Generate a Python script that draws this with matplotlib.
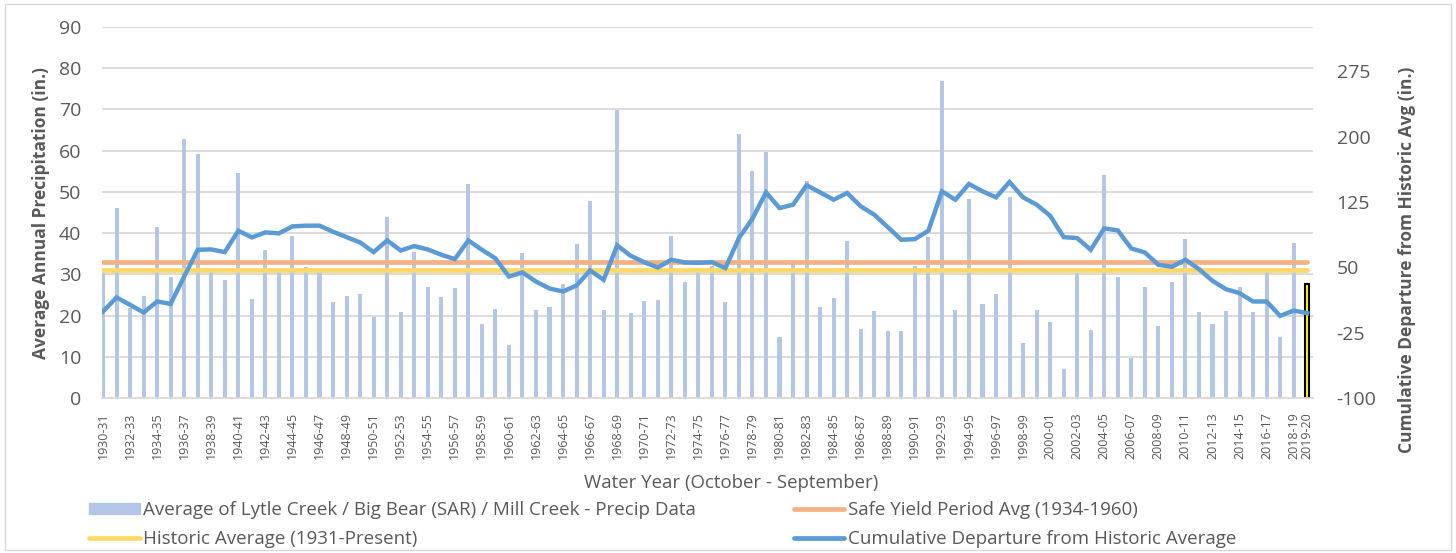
import matplotlib.pyplot as plt
from matplotlib.patches import Rectangle, Patch
from matplotlib.lines import Line2D

plt.rcParams['font.family'] = ['Open Sans', 'DejaVu Sans']
plt.rcParams['axes.unicode_minus'] = False

water_years = [f"{y}-{str(y + 1)[-2:]}" for y in range(1930, 2020)]

# annual precip (in.), average of Lytle Creek / Big Bear / Mill Creek
precip = [30.5, 46.2, 21.8, 24.9, 41.6, 29.5, 62.7, 59.1, 31.0, 28.7,
          54.6, 24.1, 35.9, 30.5, 39.3, 31.8, 30.8, 23.4, 24.8, 25.3,
          19.6, 43.8, 20.8, 35.4, 27.0, 24.5, 26.6, 51.9, 18.1, 21.7,
          12.9, 35.3, 21.5, 22.0, 27.7, 37.3, 47.8, 21.5, 69.8, 20.6,
          23.5, 23.7, 39.3, 28.2, 30.5, 32.0, 23.4, 64.1, 55.0, 59.7,
          14.9, 33.5, 52.7, 22.0, 24.2, 38.1, 16.7, 21.1, 16.4, 16.4,
          32.0, 39.0, 76.8, 21.3, 48.3, 22.8, 25.2, 48.7, 13.3, 21.3,
          18.6, 7.0, 30.3, 16.6, 54.2, 29.5, 9.8, 27.0, 17.6, 28.2,
          38.5, 20.9, 18.1, 21.1, 27.0, 20.9, 30.8, 14.8, 37.5, 27.8]

# cumulative departure from historic average (in.)
cum_departure = [-0.5, 15.6, 7.2, -1.6, 11.0, 8.3, 39.7, 70.3, 70.7, 67.6,
                 92.1, 84.5, 90.2, 89.1, 97.1, 97.9, 97.9, 91.0, 84.8, 78.7,
                 67.6, 81.0, 69.5, 74.5, 70.7, 64.6, 59.6, 81.0, 70.3, 60.4,
                 39.7, 44.3, 33.9, 25.9, 22.5, 29.4, 46.6, 35.9, 75.3, 63.4,
                 56.1, 50.0, 58.8, 55.8, 55.4, 56.1, 49.3, 83.7, 105.9, 136.1,
                 118.1, 122.0, 144.2, 136.1, 127.7, 135.4, 120.1, 110.5, 96.3, 81.8,
                 82.5, 92.1, 137.3, 127.7, 145.7, 137.3, 130.4, 148.0, 130.4, 122.0,
                 109.3, 84.8, 83.7, 70.3, 94.8, 92.5, 71.8, 67.2, 53.1, 50.8,
                 58.8, 48.1, 34.7, 25.1, 20.6, 11.0, 11.0, -5.5, 0.6, -2.4]

safe_yield_avg = 32.9
historic_avg = 31.0

grey = '#595959'
x = list(range(len(water_years)))

fig = plt.figure(figsize=(14.56, 5.53), dpi=100)
fig.patches.append(Rectangle((5 / 1456, 3 / 553), 1446 / 1456, 546 / 553,
                             transform=fig.transFigure, fill=False,
                             edgecolor='#d9d9d9', linewidth=1))

ax = fig.add_axes([0.0701, 0.2797, 0.8317, 0.672])
ax2 = ax.twinx()

bar_colors = ['#b4c7e7'] * (len(x) - 1) + ['#ffff00']
bar_edges = ['#b4c7e7'] * (len(x) - 1) + ['black']
bar_lw = [0] * (len(x) - 1) + [1.5]
ax.bar(x, precip, width=0.3, color=bar_colors, edgecolor=bar_edges,
       linewidth=bar_lw, zorder=2)
ax.plot(x, [safe_yield_avg] * len(x), color='#f4b183', lw=3.4,
        solid_capstyle='round', zorder=3)
ax.plot(x, [historic_avg] * len(x), color='#ffd966', lw=3.4,
        solid_capstyle='round', zorder=3)
ax2.plot(x, cum_departure, color='#5b9bd5', lw=3.2, solid_joinstyle='miter',
         zorder=4)

ax.set_xlim(-0.07, 89.43)
ax.set_ylim(0, 90)
ax.set_yticks(range(0, 91, 10))
ax2.set_ylim(-100, 326)
ax2.set_yticks([-100, -25, 50, 125, 200, 275])

ax.grid(axis='y', color='#d9d9d9', lw=1.3, zorder=0)
ax.set_axisbelow(True)
for a in (ax, ax2):
    for s in a.spines.values():
        s.set_visible(False)
ax.spines['bottom'].set_visible(True)
ax.spines['bottom'].set_color('#d9d9d9')
ax.spines['bottom'].set_linewidth(1.3)

ax.set_xticks(x)
ax.set_xticklabels([lab if (i % 2 == 0 or i == len(x) - 1) else ''
                    for i, lab in enumerate(water_years)],
                   rotation=90, fontsize=9, color=grey)
ax.tick_params(axis='x', length=0, pad=10)
ax.tick_params(axis='y', length=0, pad=15, labelsize=14, labelcolor=grey)
ax2.tick_params(axis='y', length=0, pad=17, labelsize=14, labelcolor=grey)

ax.set_ylabel('Average Annual Precipitation (in.)', fontsize=12.5,
              fontweight='bold', color=grey, labelpad=6)
fig.text(1407 / 1456, 1 - 260 / 553, 'Cumulative Departure from Historic Avg (in.)',
         rotation=90, ha='center', va='center', fontsize=12.5,
         fontweight='bold', color=grey)

fig.text(731 / 1456, 1 - 483 / 553, 'Water Year (October - September)',
         ha='center', va='center', fontsize=13.4, color=grey)

handles = [Patch(color='#b4c7e7'),
           Line2D([], [], color='#ffd966', lw=3.4, solid_capstyle='round'),
           Line2D([], [], color='#f4b183', lw=3.4, solid_capstyle='round'),
           Line2D([], [], color='#5b9bd5', lw=3.4, solid_capstyle='round')]
labels = ['Average of Lytle Creek / Big Bear (SAR) / Mill Creek - Precip Data',
          'Historic Average (1931-Present)',
          'Safe Yield Period Avg (1934-1960)',
          'Cumulative Departure from Historic Average']
leg = fig.legend(handles, labels, ncol=2, loc='upper left',
                 bbox_to_anchor=(89 / 1456, 1 - 501 / 553), frameon=False,
                 fontsize=13.5, handlelength=2.7, handleheight=0.55,
                 handletextpad=0.2, columnspacing=5.2, labelspacing=0.6,
                 borderpad=0, borderaxespad=0)
for t in leg.get_texts():
    t.set_color(grey)

fig.savefig('out.png', dpi=100)
